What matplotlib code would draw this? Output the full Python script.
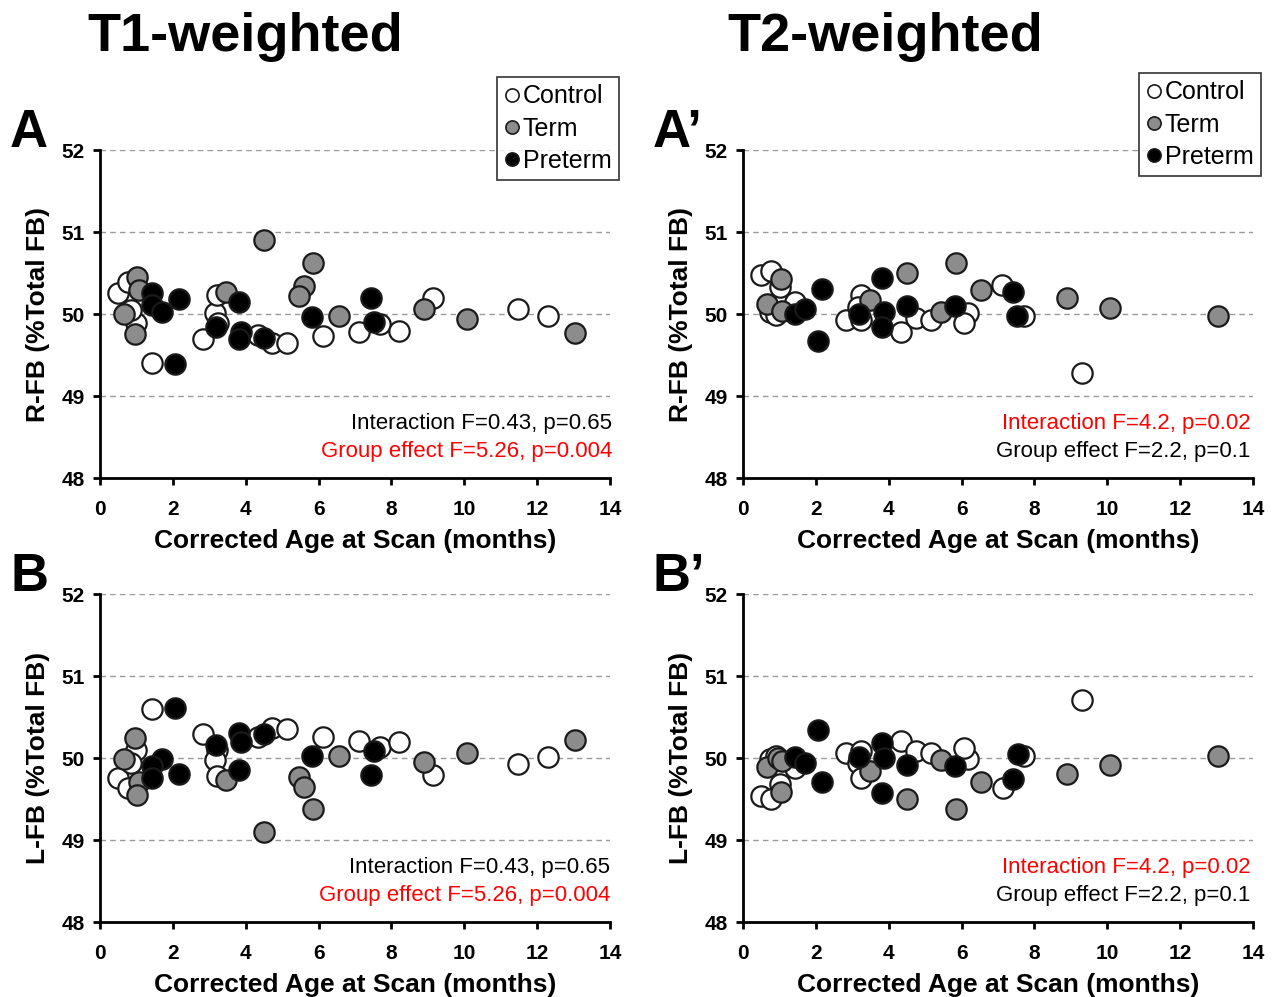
import matplotlib
matplotlib.use('Agg')
import matplotlib.pyplot as plt
from matplotlib.lines import Line2D

plt.rcParams['font.family'] = ['Liberation Sans', 'DejaVu Sans']

# ---- data (age in months, %Total FB) ----
# Panel A: T1 R-FB
a_ctrl_x = [0.5, 0.78, 1.0, 0.85, 1.43, 2.83, 3.16, 3.2, 3.25, 4.35, 4.72, 5.13, 6.13,
            7.1, 7.7, 8.2, 9.15, 11.48, 12.3]
a_ctrl_y = [50.26, 50.39, 49.89, 50.05, 49.4, 49.7, 50.01, 50.23, 49.89, 49.74, 49.65, 49.65, 49.73,
            49.78, 49.88, 49.79, 50.2, 50.06, 49.98]
a_term_x = [1.02, 1.07, 0.66, 0.96, 3.46, 4.5, 5.85, 5.6, 5.47, 6.55, 8.9, 10.08, 13.05]
a_term_y = [50.45, 50.29, 50.0, 49.76, 50.27, 50.9, 50.62, 50.34, 50.22, 49.98, 50.06, 49.94, 49.77]
a_pre_x = [1.43, 1.43, 1.7, 2.17, 2.06, 3.82, 3.19, 3.87, 3.82, 4.5, 5.82, 7.44, 7.53]
a_pre_y = [50.26, 50.11, 50.02, 50.18, 49.39, 50.15, 49.84, 49.78, 49.7, 49.71, 49.96, 50.2, 49.9]

# Panel A': T2 R-FB
a2_ctrl_x = [0.49, 0.76, 1.02, 1.42, 0.74, 0.9, 2.83, 3.24, 3.15, 3.24, 4.34, 4.75, 5.16,
             6.18, 6.07, 7.1, 7.7, 9.31]
a2_ctrl_y = [50.48, 50.53, 50.33, 50.15, 50.02, 49.99, 49.93, 50.23, 50.09, 49.93, 49.78, 49.95, 49.93,
             50.01, 49.89, 50.35, 49.98, 49.28]
a2_term_x = [1.04, 0.66, 1.07, 3.49, 4.5, 5.85, 5.44, 6.54, 8.9, 10.08, 13.05]
a2_term_y = [50.43, 50.12, 50.04, 50.17, 50.5, 50.62, 50.02, 50.29, 50.19, 50.07, 49.98]
a2_pre_x = [1.43, 1.7, 2.17, 2.06, 3.82, 3.19, 3.87, 3.82, 4.5, 5.82, 7.42, 7.53]
a2_pre_y = [50.0, 50.06, 50.3, 49.67, 50.44, 50.0, 50.02, 49.84, 50.1, 50.1, 50.27, 49.97]

# Panel B: T1 L-FB
b_ctrl_x = [1.43, 0.5, 0.78, 1.0, 0.85, 2.83, 3.2, 3.16, 3.2, 4.35, 4.72, 5.13, 6.13,
            7.1, 7.7, 8.2, 9.15, 11.48, 12.3]
b_ctrl_y = [50.6, 49.76, 49.63, 50.1, 49.94, 50.29, 50.1, 49.98, 49.78, 50.26, 50.36, 50.35, 50.26,
            50.21, 50.13, 50.2, 49.79, 49.93, 50.01]
b_term_x = [0.96, 0.66, 1.07, 1.02, 3.46, 4.5, 5.47, 5.6, 5.85, 6.55, 10.08, 8.9, 13.05]
b_term_y = [50.24, 49.99, 49.71, 49.55, 49.73, 49.1, 49.77, 49.65, 49.38, 50.02, 50.06, 49.95, 50.22]
b_pre_x = [2.06, 1.7, 1.43, 1.43, 2.17, 3.19, 3.82, 3.87, 3.82, 4.5, 5.82, 7.53, 7.44]
b_pre_y = [50.61, 49.99, 49.9, 49.76, 49.8, 50.16, 50.3, 50.2, 49.85, 50.29, 50.02, 50.09, 49.79]

# Panel B': T2 L-FB
b2_ctrl_x = [0.49, 0.76, 1.02, 0.74, 0.9, 1.42, 2.83, 3.24, 3.15, 3.24, 4.34, 4.75, 5.16,
             6.18, 6.07, 7.14, 7.7, 9.31]
b2_ctrl_y = [49.54, 49.5, 49.68, 49.99, 50.02, 49.88, 50.06, 50.08, 49.94, 49.76, 50.21, 50.08, 50.06,
             49.99, 50.12, 49.64, 50.03, 50.71]
b2_term_x = [0.66, 0.96, 1.07, 1.04, 3.49, 4.5, 5.44, 5.85, 6.54, 8.9, 10.08, 13.05]
b2_term_y = [49.89, 50.0, 49.96, 49.59, 49.84, 49.5, 49.97, 49.38, 49.71, 49.8, 49.91, 50.02]
b2_pre_x = [2.06, 1.43, 1.7, 2.17, 3.82, 3.19, 3.87, 3.82, 4.5, 5.82, 7.55, 7.42]
b2_pre_y = [50.34, 50.01, 49.94, 49.71, 50.18, 50.01, 50.0, 49.57, 49.91, 49.9, 50.05, 49.74]

group_names = ['Control', 'Term', 'Preterm']
group_colors = ['white', '#8c8c8c', 'black']

x_ticks = [0, 2, 4, 6, 8, 10, 12, 14]
y_ticks = [48, 49, 50, 51, 52]

stats_t1 = ['Interaction F=0.43, p=0.65', 'Group effect F=5.26, p=0.004']
stats_t2 = ['Interaction F=4.2, p=0.02', 'Group effect F=2.2, p=0.1']

fig = plt.figure(figsize=(12.77, 9.97), dpi=100)

W = 510 / 1277
H = 328 / 997
panels = [
    # left, bottom, groups, ylabel, letter, stats, stats colours, stats x
    (100 / 1277, 1 - 478 / 997, (a_ctrl_x, a_ctrl_y), (a_term_x, a_term_y), (a_pre_x, a_pre_y),
     'R-FB (%Total FB)', 'A', stats_t1, ['black', 'red'], 1.004),
    (743 / 1277, 1 - 478 / 997, (a2_ctrl_x, a2_ctrl_y), (a2_term_x, a2_term_y), (a2_pre_x, a2_pre_y),
     'R-FB (%Total FB)', 'A\u2019', stats_t2, ['red', 'black'], 0.995),
    (100 / 1277, 1 - 922 / 997, (b_ctrl_x, b_ctrl_y), (b_term_x, b_term_y), (b_pre_x, b_pre_y),
     'L-FB (%Total FB)', 'B', stats_t1, ['black', 'red'], 1.0),
    (743 / 1277, 1 - 922 / 997, (b2_ctrl_x, b2_ctrl_y), (b2_term_x, b2_term_y), (b2_pre_x, b2_pre_y),
     'L-FB (%Total FB)', 'B\u2019', stats_t2, ['red', 'black'], 0.995),
]

axes = []
for left, bottom, ctrl, term, pre, ylab, letter, stats, scol, sx in panels:
    ax = fig.add_axes([left, bottom, W, H])
    axes.append(ax)
    for yv in [49, 50, 51, 52]:
        ax.axhline(yv, color='#999999', lw=1.0, ls=(0, (4, 3)), zorder=0)
    for (xs, ys), c in zip([ctrl, term, pre], group_colors):
        ax.scatter(xs, ys, s=215, facecolor=c, edgecolor='#1a1a1a', linewidths=1.6,
                   zorder=3, clip_on=False)
    ax.set_xlim(0, 14)
    ax.set_ylim(48, 52)
    ax.set_xticks(x_ticks)
    ax.set_yticks(y_ticks)
    ax.spines['top'].set_visible(False)
    ax.spines['right'].set_visible(False)
    for sp in ['left', 'bottom']:
        ax.spines[sp].set_linewidth(2)
    ax.tick_params(axis='both', direction='out', length=5, width=2, labelsize=15)
    ax.tick_params(axis='x', pad=11)
    ax.tick_params(axis='y', pad=6)
    for lab in ax.get_xticklabels() + ax.get_yticklabels():
        lab.set_fontweight('bold')
    ax.set_xlabel('Corrected Age at Scan (months)', fontsize=19, fontweight='bold', labelpad=7)
    ax.set_ylabel(ylab, fontsize=19, fontweight='bold', labelpad=8)
    ax.text(sx, 0.165, stats[0], transform=ax.transAxes, ha='right', va='center',
            fontsize=16, color=scol[0])
    ax.text(sx, 0.082, stats[1], transform=ax.transAxes, ha='right', va='center',
            fontsize=16, color=scol[1])
    fig.text(left - 90 / 1277, bottom + H + 3 / 997, letter, fontsize=38, fontweight='bold',
             ha='left', va='baseline')

fig.text(245 / 1277, 1 - 37 / 997, 'T1-weighted', fontsize=39, fontweight='bold', ha='center', va='center')
fig.text(885 / 1277, 1 - 37 / 997, 'T2-weighted', fontsize=39, fontweight='bold', ha='center', va='center')

handles = [Line2D([], [], ls='none', marker='o', markersize=9.5, markerfacecolor=c,
                  markeredgecolor='#1a1a1a', markeredgewidth=1.2) for c in group_colors]
for ax, anchor in [(axes[0], (1.018, 1.2226)), (axes[1], (1.0157, 1.2348))]:
    leg = ax.legend(handles, group_names, loc='upper right', bbox_to_anchor=anchor, fontsize=18,
                    frameon=True, fancybox=False, edgecolor='black', handlelength=0.6,
                    handletextpad=0.15, borderpad=0.3, labelspacing=0.33, borderaxespad=0)
    leg.get_frame().set_linewidth(1.2)

fig.savefig('out.png', dpi=100)
